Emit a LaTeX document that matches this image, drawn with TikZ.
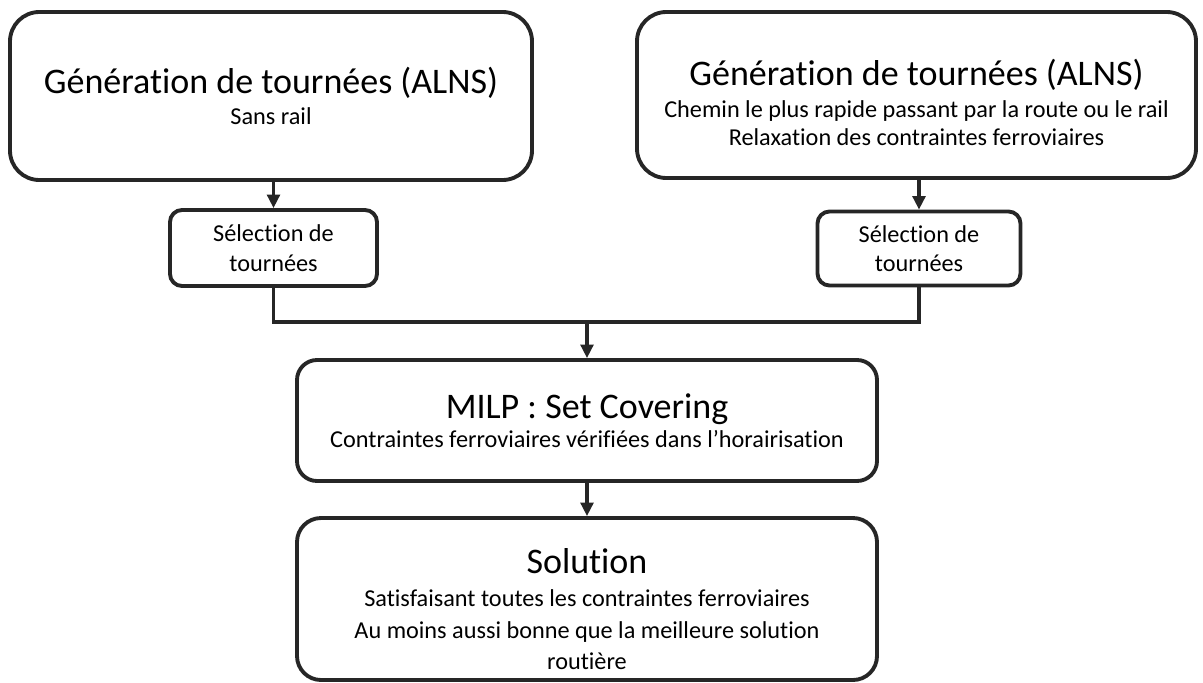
\documentclass[tikz,border=0pt]{standalone}
\usepackage{fontspec}
\setmainfont{Carlito}[Ligatures=NoCommon]
\usetikzlibrary{positioning,calc,arrows.meta}

\definecolor{trait}{HTML}{262626}
\newcommand{\grand}{\fontsize{27}{31}\selectfont}
\newcommand{\petit}{\fontsize{18.2}{22}\selectfont}

\tikzset{
  boite/.style={draw=trait, line width=2.9pt, rounded corners=#1, align=center, inner sep=0pt, font=\petit},
  texte/.style={align=center, inner sep=0pt, font=\petit},
  fleche/.style={draw=trait, line width=2.3pt, -{Triangle[length=10pt,width=9.5pt]}},
  lien/.style={draw=trait, line width=2.3pt},
}

\begin{document}
\begin{tikzpicture}[x=0.75pt, y=-0.75pt]
	\useasboundingbox (0,0) rectangle (1203,682);
	% generation de tournees
	\node[boite=22pt, minimum width=391.5pt, minimum height=126pt] (gen1) at (271,96) {{\grand G\'en\'eration de tourn\'ees (ALNS)}\\[1pt] Sans rail};
	\node[boite=22pt, minimum width=419.25pt, minimum height=124.5pt] (gen2) at (916.5,95) {};
	\node[texte] (gen2txt) at ([yshift=-5.6pt]gen2.center) {{\grand G\'en\'eration de tourn\'ees (ALNS)}\\[2pt] Chemin le plus rapide passant par la route ou le rail\\[-1pt] Relaxation des contraintes ferroviaires};
	% selection
	\node[boite=9pt, minimum width=155.25pt, minimum height=57pt] (sel1) at (273.5,248) {S\'election de\\ tourn\'ees};
	\node[boite=9pt, minimum width=152.25pt, minimum height=55.5pt] (sel2) at (919,248.5) {S\'election de\\ tourn\'ees};
	% resolution
	\node[boite=15pt, minimum width=435pt, minimum height=90.75pt] (milp) at (587,420.5) {{\grand MILP : Set Covering}\\[0pt] Contraintes ferroviaires v\'erifi\'ees dans l'horairisation};
	\node[boite=18pt, minimum width=435pt, minimum height=121.5pt] (sol) at (587,599) {};
	\node[texte] (soltxt) at ([yshift=-7.5pt]sol.center) {{\grand Solution}\\[3pt] Satisfaisant toutes les contraintes ferroviaires\\[1.5pt] Au moins aussi bonne que la meilleure solution\\[1.5pt] routi\`ere};
	\coordinate (join) at (587,322);

	\draw[fleche] (sel1.north |- gen1.south) -- (sel1.north);
	\draw[fleche] (sel2.north |- gen2.south) -- (sel2.north);
	\draw[lien] (sel1.south) |- (join) -| (sel2.south);
	\draw[fleche] (join) -- (milp.north);
	\draw[fleche] (milp.south) -- (sol.north);
\end{tikzpicture}
\end{document}
